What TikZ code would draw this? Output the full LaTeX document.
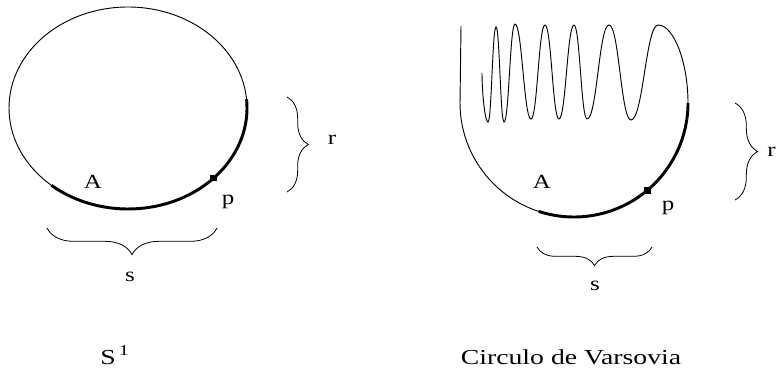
\documentclass[tikz,border=0pt]{standalone}
\usepackage{fontspec}
\setmainfont{Liberation Serif}
\usetikzlibrary{decorations.pathreplacing, positioning}
\tikzset{
  % Thin outline of a curve
  outline/.style={draw=black, line width=0.7pt},
  % Highlighted arc
  heavyarc/.style={draw=black, line width=2.2pt},
  % Curly brace
  curly/.style={draw=black, line width=0.6pt,
    decorate, decoration={brace, amplitude=#1}},
  % Point marker
  pointmark/.style={rectangle, fill=black, inner sep=0pt,
    minimum size=5pt},
  % Letter labels
  letter/.style={font=\fontsize{15}{17}\selectfont,
    xscale=1.25, inner sep=0pt},
  % Captions
  caption/.style={font=\fontsize{16}{18}\selectfont,
    xscale=1.3, inner sep=0pt, anchor=base}
}
\begin{document}
\begin{tikzpicture}[x=0.75pt, y=0.75pt]
\useasboundingbox (0,0) rectangle (777,371);

% Circle S^1
\coordinate (ctrL) at (128,263);
\draw[outline] (ctrL) ellipse [x radius=119, y radius=101];
\draw[heavyarc] (ctrL) ++(5:119 and 101)
  arc[start angle=5, end angle=-130, x radius=119, y radius=101];
\node[pointmark] (ptL) at ([shift={(-44:119 and 101)}]ctrL) {};

\node[letter] (labelA1) at (93,189) {A};
\node[letter] (labelp1) at (228,169) {p};

% Braces
\coordinate (rTopL) at (287,274);
\coordinate (rBotL) at (287,179);
\draw[curly=16pt] (rTopL) -- (rBotL);
\node[letter] (labelr1) at (332,231) {r};

\coordinate (sRightL) at (217,143);
\coordinate (sLeftL) at (47,143);
\draw[curly=20pt] (sRightL) -- (sLeftL);
\node[letter] (labels1) at (130,94) {s};

\node[caption] (titleS) at (115,7) {S\textsuperscript{\,1}};

% Warsaw circle
\coordinate (ctrR) at (574,268);
\draw[outline] (461,345) -- (460,268)
  arc[start angle=180, end angle=360, radius=114];
\draw[outline] (482,298)
  .. controls +(0,-20) and +(-3,0) .. (488,249)
  .. controls +(3.6,0) and +(-3.6,0) .. (496,344)
  .. controls +(3.6,0) and +(-3.6,0) .. (504,249)
  .. controls +(5,0) and +(-5,0) .. (515,347)
  .. controls +(7,0) and +(-7,0) .. (531,252)
  .. controls +(6.3,0) and +(-6.3,0) .. (545,346)
  .. controls +(6.3,0) and +(-6.3,0) .. (559,252)
  .. controls +(6.7,0) and +(-6.7,0) .. (574,346)
  .. controls +(5.8,0) and +(-5.8,0) .. (587,252)
  .. controls +(10,0) and +(-10,0) .. (609,346)
  .. controls +(10,0) and +(-10,0) .. (631,251)
  .. controls +(12,0) and +(-12,0) .. (658,346)
  .. controls +(16,0) and +(0,40) .. (688,268);
\draw[heavyarc] (ctrR) ++(252:114)
  arc[start angle=252, end angle=360, radius=114];
\node[pointmark] (ptR) at ([shift={(-50:114)}]ctrR) {};

\node[letter] (labelA2) at (542,189) {A};
\node[letter] (labelp2) at (668,163) {p};

% Braces
\coordinate (rTopR) at (735,268);
\coordinate (rBotR) at (735,171);
\draw[curly=17pt] (rTopR) -- (rBotR);
\node[letter, anchor=east] (labelr2) at (776,219) {r};

\coordinate (sRightR) at (652,124);
\coordinate (sLeftR) at (537,124);
\draw[curly=14pt] (sRightR) -- (sLeftR);
\node[letter] (labels2) at (595,85) {s};

\node[caption] (titleW) at (571,7) {Circulo de Varsovia};

\end{tikzpicture}
\end{document}
